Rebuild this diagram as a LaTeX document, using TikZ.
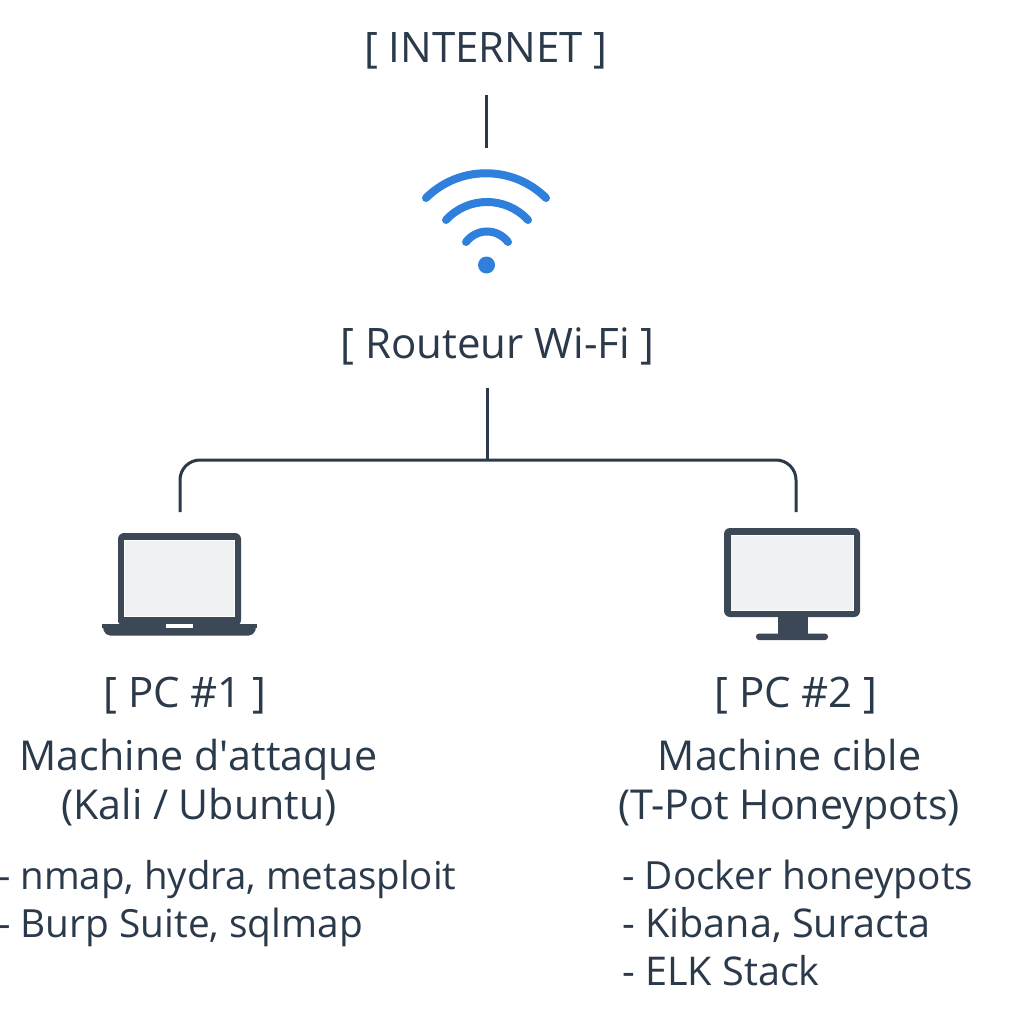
\documentclass[tikz,border=0pt]{standalone}
\usepackage{fontspec}
\setmainfont{Open Sans}
\definecolor{ink}{HTML}{2B3A4A}
\definecolor{dev}{HTML}{3D4856}
\definecolor{scr}{HTML}{F0F1F3}
\definecolor{wifi}{HTML}{2F80DD}
\tikzset{
 lbl/.style={font=\fontsize{42}{42}\selectfont,text=ink,inner sep=0pt,anchor=base},
 sub/.style={font=\fontsize{41.2}{42}\selectfont,text=ink,inner sep=0pt,anchor=base},
 item/.style={font=\fontsize{38.8}{39}\selectfont,text=ink,inner sep=0pt,anchor=base west},
 wire/.style={draw=ink,line width=3pt},
 wave/.style={draw=wifi,line width=8pt,line cap=round}
}
\begin{document}
\begin{tikzpicture}[x=1pt,y=-1pt]
\useasboundingbox (0,0) rectangle (1024,1024);
\fill[white] (0,0) rectangle (1024,1024);
\clip (0,0) rectangle (1024,1024);
% labels
\node[lbl] (inet) at (486,63) {[ INTERNET ]};
\node[lbl] (rout) at (497.5,358) {[ Routeur Wi-Fi ]};
\node[lbl] (pc1) at (185,707) {[ PC \#1 ]};
\node[lbl] (pc2) at (796,707) {[ PC \#2 ]};
\node[sub] (m1) at (198.5,770) {Machine d\textquotesingle attaque};
\node[sub] (k1) at (199,819) {(Kali / Ubuntu)};
\node[sub] (m2) at (789.5,770) {Machine cible};
\node[sub] (k2) at (789,819) {(T-Pot Honeypots)};
\node[item,font=\fontsize{38.4}{39}\selectfont] (a1) at (-2,889) {- nmap, hydra, metasploit};
\node[item] (a2) at (-2,937) {- Burp Suite, sqlmap};
\node[item] (b1) at (622,889) {- Docker honeypots};
\node[item,font=\fontsize{39.6}{40}\selectfont] (b2) at (622,937) {- Kibana, Suracta};
\node[item,font=\fontsize{39.6}{40}\selectfont] (b3) at (622,985) {- ELK Stack};
% wifi
\coordinate (wtop) at (486,148);
\draw[wave] (426,198) .. controls (459,165) and (513,165) .. (546,198);
\draw[wave] (446,220) .. controls (468,196) and (506,196) .. (528,220);
\draw[wave] (466,242) .. controls (477,228) and (497,228) .. (508,242);
\fill[wifi] (486.5,265) circle (8.5);
% connectors
\coordinate (itop) at (486,95);
\coordinate (rbot) at (487,388);
\coordinate (bus) at (487,460);
\coordinate (lap) at (180,512);
\coordinate (mon) at (796,512);
\draw[wire] (itop) -- (wtop);
\draw[wire] (rbot) -- (bus);
\draw[wire,rounded corners=20pt] (lap) |- (bus) -| (mon);
% laptop
\fill[dev,rounded corners=6pt] (118,616) -- (118,533) -- (241,533) -- (241,626) -- (118,626) -- cycle;
\fill[dev,rounded corners=5pt] (102,624) -- (257,624) -- (254,635.5) -- (105,635.5) -- cycle;
\fill[dev] (102,624) rectangle (257,628);
\fill[white] (124,540) rectangle (235,617);
\fill[scr] (125,541) rectangle (234,616);
\fill[white] (166,624) rectangle (193,627.5);
% monitor
\fill[dev,rounded corners=6pt] (724,528) rectangle (860,617);
\fill[white] (730.5,535) rectangle (854,610.5);
\fill[scr] (731,536) rectangle (853,610);
\fill[dev] (778,615) rectangle (808,636);
\fill[dev,rounded corners=3pt] (756,633.5) rectangle (828,640);
\end{tikzpicture}
\end{document}
